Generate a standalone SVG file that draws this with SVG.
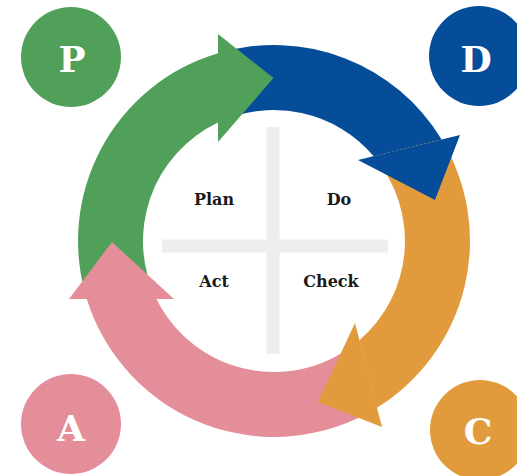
<svg xmlns="http://www.w3.org/2000/svg" width="517" height="476" viewBox="0 0 517 476">
<style>
.lbl{font-family:"DejaVu Serif","Liberation Serif",serif;font-weight:bold;font-size:16px;fill:#1a1a1a;text-anchor:middle}
.big{font-family:"DejaVu Serif","Liberation Serif",serif;font-weight:bold;font-size:36px;fill:#ffffff;text-anchor:middle}
.g{fill:#50a05a}.b{fill:#064d99}.o{fill:#e29b3c}.p{fill:#e48e99}
.cross{stroke:#eeeeee;stroke-width:13;fill:none}
</style>
<rect width="517" height="476" fill="#ffffff"/>
<g id="cross">
<line class="cross" x1="162" y1="246" x2="388" y2="246"/>
<line class="cross" x1="273" y1="127" x2="273" y2="354"/>
</g>
<g id="connectors">
<path class="g" d="M86.8,299 A196,196 0 0 1 218,53.2 L218,122.6 A131,131 0 0 0 156.5,299 Z"/>
<path class="b" d="M218,53.2 A196,196 0 0 1 441.7,139.5 L373.8,156.2 A131,131 0 0 0 218,122.6 Z"/>
<path class="o" d="M441.7,139.5 A196,196 0 0 1 376.8,407.8 L359.4,340.3 A131,131 0 0 0 373.8,156.2 Z"/>
<path class="p" d="M376.8,407.8 A196,196 0 0 1 86.8,299 L156.5,299 A131,131 0 0 0 359.4,340.3 Z"/>
<polygon class="g" points="218,34 218,142 273.5,78"/>
<polygon class="b" points="358,160 460,135 435,200"/>
<polygon class="o" points="355,323 382,427 318,402"/>
<polygon class="p" points="69,299 174,299 112,242"/>
</g>
<g id="plan"><text class="lbl" x="214" y="205">Plan</text></g>
<g id="do"><text class="lbl" x="339" y="205">Do</text></g>
<g id="act"><text class="lbl" x="214" y="287">Act</text></g>
<g id="check"><text class="lbl" x="331" y="287">Check</text></g>
<g id="P"><circle class="g" cx="71" cy="57" r="50"/><text class="big" x="72" y="72">P</text></g>
<g id="D"><circle class="b" cx="479" cy="56" r="50"/><text class="big" x="476" y="72">D</text></g>
<g id="A"><circle class="p" cx="71" cy="424" r="50"/><text class="big" x="71" y="441">A</text></g>
<g id="C"><circle class="o" cx="480" cy="430" r="50"/><text class="big" x="478" y="444">C</text></g>
</svg>
